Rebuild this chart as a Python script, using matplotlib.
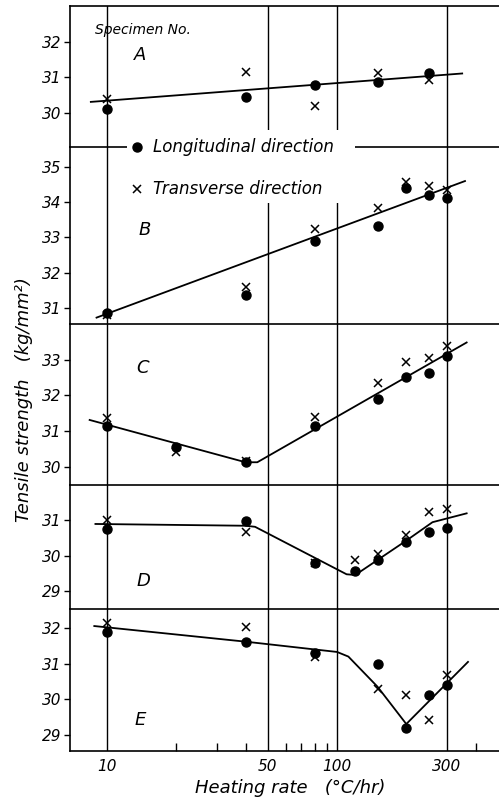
"""
Tensile strength vs heating rate, specimens A-E (longitudinal / transverse).
Five stacked panels on a common log heating-rate axis.
"""

import matplotlib
matplotlib.use("Agg")
import matplotlib.pyplot as plt
from matplotlib.patches import Rectangle
from matplotlib.lines import Line2D
from matplotlib.ticker import FixedLocator, NullFormatter, FixedFormatter

# ---------------------------------------------------------------------------
# Data
# ---------------------------------------------------------------------------

specimens = ["A", "B", "C", "D", "E"]

rate_A = [10, 40, 80, 150, 250]
long_A = [30.09, 30.45, 30.77, 30.87, 31.12]
trans_A = [30.37, 31.13, 30.18, 31.12, 30.92]
curve_A_x = [8.5, 350]
curve_A_y = [30.30, 31.10]

rate_B = [10, 40, 80, 150, 200, 250, 300]
long_B = [30.86, 31.38, 32.90, 33.33, 34.39, 34.20, 34.10]
trans_B = [30.80, 31.61, 33.23, 33.82, 34.57, 34.45, 34.34]
curve_B_x = [9.0, 360]
curve_B_y = [30.74, 34.59]

rate_C = [10, 20, 40, 80, 150, 200, 250, 300]
long_C = [31.14, 30.56, 30.14, 31.14, 31.90, 32.53, 32.63, 33.11]
trans_C = [31.37, 30.40, 30.16, 31.40, 32.36, 32.95, 33.05, 33.39]
curve_C_x = [8.4, 40, 45, 366]
curve_C_y = [31.31, 30.12, 30.12, 33.49]

rate_D = [10, 40, 80, 120, 150, 200, 250, 300]
long_D = [30.76, 30.99, 29.79, 29.58, 29.89, 30.40, 30.67, 30.78]
trans_D = [31.01, 30.68, 29.80, 29.89, 30.06, 30.59, 31.23, 31.32]
curve_D_x = [8.9, 40, 44, 110, 120, 200, 260, 366]
curve_D_y = [30.90, 30.85, 30.82, 29.48, 29.46, 30.43, 30.95, 31.20]

rate_E = [10, 40, 80, 150, 200, 250, 300]
long_E = [31.88, 31.60, 31.29, 30.98, 29.20, 30.11, 30.39]
trans_E = [32.15, 32.02, 31.19, 30.30, 30.11, 29.41, 30.68]
curve_E_x = [8.8, 40, 100, 112, 150, 200, 371]
curve_E_y = [32.06, 31.62, 31.33, 31.20, 30.35, 29.30, 31.05]

ylims = [(29.03, 33.0), (30.56, 35.55), (29.48, 34.01), (28.5, 32.0), (28.54, 32.54)]
yticks = [[30, 31, 32], [31, 32, 33, 34, 35], [30, 31, 32, 33], [29, 30, 31], [29, 30, 31, 32]]

grid_rates = [10, 50, 100, 300]
grid_labels = ["10", "50", "100", "300"]
minor_rates = [20, 30, 40, 60, 70, 80, 90, 400]

# ---------------------------------------------------------------------------
# Layout helpers (pixel positions of the 499x805 canvas)
# ---------------------------------------------------------------------------

W, H = 499, 805
panel_edges = [6, 147, 324, 485, 609, 751]   # y of panel borders, from top
LEFT = 70


def fx(px):
    return px / W


def fy(py):
    return 1 - py / H


plt.rcParams["font.family"] = ["DejaVu Sans"]
plt.rcParams["font.style"] = "italic"

fig = plt.figure(figsize=(W / 100, H / 100), dpi=100)

series = [
    (rate_A, long_A, trans_A, curve_A_x, curve_A_y),
    (rate_B, long_B, trans_B, curve_B_x, curve_B_y),
    (rate_C, long_C, trans_C, curve_C_x, curve_C_y),
    (rate_D, long_D, trans_D, curve_D_x, curve_D_y),
    (rate_E, long_E, trans_E, curve_E_x, curve_E_y),
]

axes = []
for i, (rx, ly, ty, cx, cy) in enumerate(series):
    top, bot = panel_edges[i], panel_edges[i + 1]
    ax = fig.add_axes([fx(LEFT), fy(bot), 1 - fx(LEFT), (bot - top) / H])
    ax.set_xscale("log")
    ax.set_xlim(6.9, 506)
    ax.set_ylim(*ylims[i])

    ax.plot(cx, cy, color="black", lw=1.3, zorder=3)
    ax.plot(rx, ly, "o", color="black", ms=6.5, zorder=4)
    ax.plot(rx, ty, "x", color="black", ms=6, mew=1.1, zorder=5)

    for g in grid_rates:
        ax.axvline(g, color="black", lw=1.0, zorder=1)

    ax.set_yticks(yticks[i])
    ax.set_yticklabels([str(t) for t in yticks[i]], fontsize=11)
    ax.tick_params(axis="y", direction="out", length=4, width=1, pad=2)

    ax.xaxis.set_major_locator(FixedLocator(grid_rates))
    ax.xaxis.set_minor_locator(FixedLocator(minor_rates))
    ax.xaxis.set_minor_formatter(NullFormatter())
    if i < 4:
        ax.tick_params(axis="x", which="both", length=0, labelbottom=False)
    else:
        ax.xaxis.set_major_formatter(FixedFormatter(grid_labels))
        ax.tick_params(axis="x", which="major", length=0, labelsize=11, pad=6)
        ax.tick_params(axis="x", which="minor", direction="in", length=6, width=1)

    ax.spines["right"].set_visible(False)
    if i > 0:
        ax.spines["top"].set_visible(False)
    for s in ["left", "bottom", "top"]:
        ax.spines[s].set_linewidth(1.2)
    ax.patch.set_alpha(0)
    axes.append(ax)

# Specimen letters
fig.text(fx(143), fy(30), "Specimen No.", fontsize=10, ha="center", va="center")
letter_pos = [(140, 55), (145, 230), (143, 368), (143, 581), (140, 720)]
for name, (px, py) in zip(specimens, letter_pos):
    fig.text(fx(px), fy(py), name, fontsize=13, ha="center", va="center")

# Legend sits across the A/B border; white patch hides lines behind it
cover = Rectangle((fx(127), fy(203)), fx(355) - fx(127), fy(130) - fy(203),
                  transform=fig.transFigure, facecolor="white",
                  edgecolor="none", zorder=5)
fig.patches.append(cover)
fig.add_artist(Line2D([fx(137)], [fy(147)], marker="o", color="black",
                      ms=6.5, transform=fig.transFigure, zorder=6))
fig.add_artist(Line2D([fx(137)], [fy(189)], marker="x", color="black",
                      ms=6, mew=1.1, transform=fig.transFigure, zorder=6))
fig.text(fx(153), fy(147), "Longitudinal direction", fontsize=12,
         va="center", zorder=6)
fig.text(fx(153), fy(189), "Transverse direction", fontsize=12,
         va="center", zorder=6)

fig.text(fx(24), fy(400), "Tensile strength   (kg/mm²)", fontsize=13,
         rotation=90, ha="center", va="center")
fig.text(fx(290), fy(788), "Heating rate   (°C/hr)", fontsize=13,
         ha="center", va="center")

fig.savefig("out.png", dpi=100)
